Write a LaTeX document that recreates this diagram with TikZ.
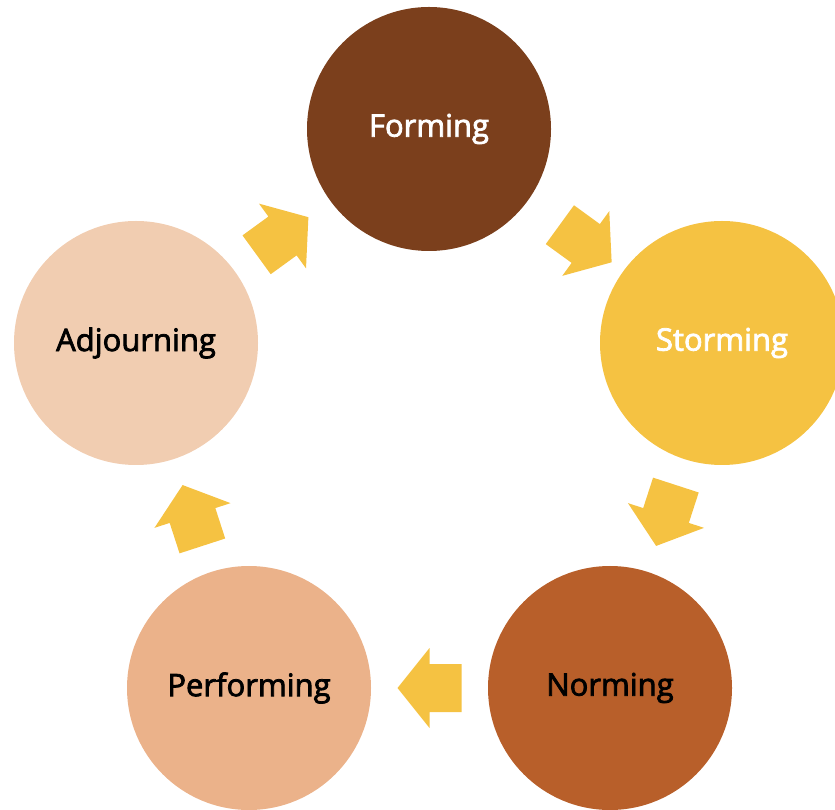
\documentclass[tikz,border=0pt]{standalone}
\usepackage{fontspec}
\setmainfont{Open Sans}
\usepackage{xcolor}
\usetikzlibrary{calc}

\definecolor{formbrown}{HTML}{7B3F1C}
\definecolor{stormyellow}{HTML}{F5C242}
\definecolor{normrust}{HTML}{B85F2A}
\definecolor{perfpeach}{HTML}{EBB28A}
\definecolor{adjpale}{HTML}{F1CDB1}

\tikzset{
    stage/.style={circle, minimum size=244pt, inner sep=0pt, font=\fontsize{31}{34}\selectfont\addfontfeature{FakeBold=2.5}},
    blockarrow/.style={fill=stormyellow}
}
% block arrow pointing along +x, centred on the origin
\newcommand{\blockarrowpath}{(-32,-24) -- (0,-24) -- (0,-40) -- (32,0) -- (0,40) -- (0,24) -- (-32,24) -- cycle}

\begin{document}
\begin{tikzpicture}[x=1pt, y=1pt]
\useasboundingbox (0,0) rectangle (835,809);
\clip (0,0) rectangle (835,809);

% Stages
\node[stage, fill=formbrown, text=white] (forming) at (429,680) {Forming};
\node[stage, fill=stormyellow, text=white] (storming) at (722,466) {Storming};
\node[stage, fill=normrust, text=black] (norming) at (610,121) {Norming};
\node[stage, fill=perfpeach, text=black] (performing) at (249,121) {Performing};
\node[stage, fill=adjpale, text=black] (adjourning) at (136,466) {Adjourning};

% Arrows between stages
\fill[blockarrow, shift={($(forming)!0.535!(storming)$)}, rotate=-36] \blockarrowpath;
\fill[blockarrow, shift={($(storming)!0.5!(norming)$)}, rotate=-108] \blockarrowpath;
\fill[blockarrow, shift={($(norming)!0.5!(performing)$)}, rotate=180] \blockarrowpath;
\fill[blockarrow, shift={($(performing)!0.5!(adjourning)$)}, rotate=108] \blockarrowpath;
\fill[blockarrow, shift={($(adjourning)!0.5!(forming)$)}, rotate=36] \blockarrowpath;
\end{tikzpicture}
\end{document}
